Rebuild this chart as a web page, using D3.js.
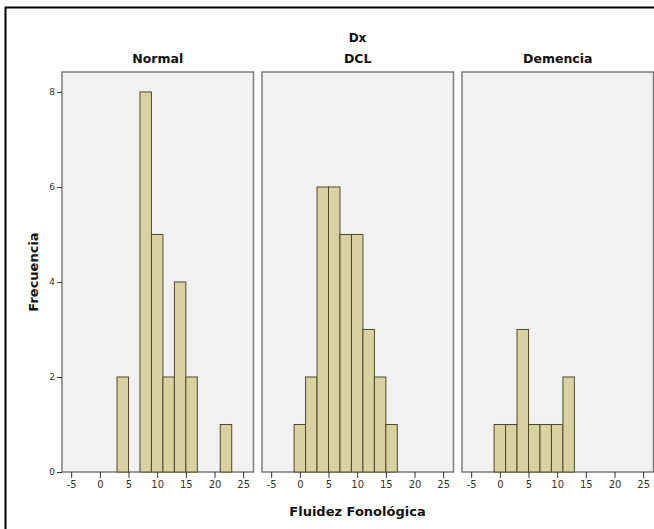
<!DOCTYPE html>
<html>
<head>
<meta charset="utf-8">
<script src="https://cdn.jsdelivr.net/npm/d3@7/dist/d3.min.js"></script>
<style>
  html, body { margin: 0; padding: 0; background: #ffffff; }
  svg { display: block; }
</style>
</head>
<body>
<svg id="chart" width="654" height="529"></svg>
<script>
// Histogram bins (left edge, width 2) and counts per diagnostic group
const binLefts = [-1, 1, 3, 5, 7, 9, 11, 13, 15, 17, 19, 21];
const binWidth = 2;
const groups = ["Normal", "DCL", "Demencia"];
const countsNormal   = [0, 0, 2, 0, 8, 5, 2, 4, 2, 0, 0, 1];
const countsDCL      = [1, 2, 6, 6, 5, 5, 3, 2, 1, 0, 0, 0];
const countsDemencia = [1, 1, 3, 1, 1, 1, 2, 0, 0, 0, 0, 0];
const xTicks = [-5, 0, 5, 10, 15, 20, 25];
const yTicks = [0, 2, 4, 6, 8];

const seriesByGroup = [countsNormal, countsDCL, countsDemencia];

const svg = d3.select("#chart");
const font = "'DejaVu Sans', 'Liberation Sans', sans-serif";

// outer frame
svg.append("rect")
  .attr("x", 5.5).attr("y", 7.5)
  .attr("width", 700).attr("height", 600)
  .attr("fill", "none").attr("stroke", "#000").attr("stroke-width", 2);

const panelTop = 72, panelBottom = 472;
const panelW = 191.5;
const panelLefts = [62, 262, 462];

const y = d3.scaleLinear().domain([0, 8.42]).range([panelBottom, panelTop]);

// facet header
svg.append("text")
  .attr("x", 357.5).attr("y", 42)
  .attr("text-anchor", "middle")
  .attr("font-family", font).attr("font-weight", "bold").attr("font-size", 12)
  .attr("fill", "#111").text("Dx");

groups.forEach((g, i) => {
  const left = panelLefts[i];
  const x = d3.scaleLinear().domain([-6.6, 26.8]).range([left, left + panelW]);

  const panel = svg.append("g");

  panel.append("rect")
    .attr("x", left).attr("y", panelTop)
    .attr("width", panelW).attr("height", panelBottom - panelTop)
    .attr("fill", "#f1f1f1").attr("stroke", "#7d7d7d").attr("stroke-width", 1.5);

  const data = binLefts.map((b, k) => ({ x0: b, x1: b + binWidth, n: seriesByGroup[i][k] }))
    .filter(d => d.n > 0);

  panel.selectAll("rect.bar").data(data).enter().append("rect")
    .attr("class", "bar")
    .attr("x", d => x(d.x0))
    .attr("width", d => x(d.x1) - x(d.x0))
    .attr("y", d => y(d.n))
    .attr("height", d => y(0) - y(d.n))
    .attr("fill", "#d8d2a2")
    .attr("stroke", "#4e4a2c")
    .attr("stroke-width", 1);

  // x axis below each panel
  const xAxis = d3.axisBottom(x).tickValues(xTicks).tickSize(6).tickPadding(3)
    .tickFormat(d => d < 0 ? "-" + Math.abs(d) : String(d));
  const gx = svg.append("g").attr("transform", `translate(0,${panelBottom})`).call(xAxis);
  gx.select(".domain").remove();
  gx.selectAll("line").attr("stroke", "#333");
  gx.selectAll("text").attr("font-family", font).attr("font-size", 10).attr("fill", "#333");

  // facet title
  svg.append("text")
    .attr("x", left + panelW / 2).attr("y", 63)
    .attr("text-anchor", "middle")
    .attr("font-family", font).attr("font-weight", "bold").attr("font-size", 12.5)
    .attr("fill", "#111").text(g);
});

// y axis on the first panel
const yAxis = d3.axisLeft(y).tickValues(yTicks).tickSize(5).tickPadding(2);
const gy = svg.append("g").attr("transform", `translate(${panelLefts[0]},0)`).call(yAxis);
gy.select(".domain").remove();
gy.selectAll("line").attr("stroke", "#333");
gy.selectAll("text").attr("font-family", font).attr("font-size", 9).attr("fill", "#333");

// axis titles
svg.append("text")
  .attr("transform", `translate(38,${(panelTop + panelBottom) / 2}) rotate(-90)`)
  .attr("text-anchor", "middle")
  .attr("font-family", font).attr("font-weight", "bold").attr("font-size", 13)
  .attr("fill", "#111").text("Frecuencia");

svg.append("text")
  .attr("x", 357.5).attr("y", 516)
  .attr("text-anchor", "middle")
  .attr("font-family", font).attr("font-weight", "bold").attr("font-size", 13)
  .attr("fill", "#111").text("Fluidez Fonológica");
</script>
</body>
</html>
